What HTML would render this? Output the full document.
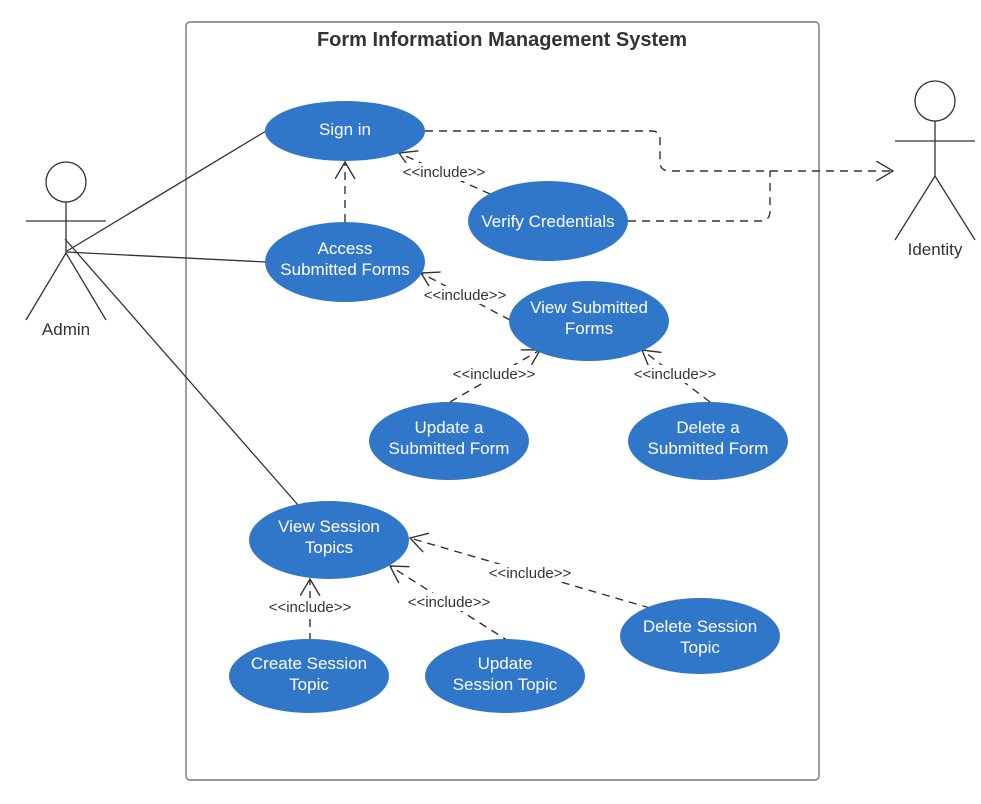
<!DOCTYPE html>
<html><head><meta charset="utf-8"><style>
html,body{margin:0;padding:0;background:#fff}
svg{display:block}
text{font-family:"Liberation Sans",Arial,sans-serif}
.u{fill:#fff;font-size:17px;text-anchor:middle}
.l{fill:#333;font-size:15px;text-anchor:middle}
.d{stroke:#333;stroke-width:1.4;fill:none;stroke-dasharray:8 6}
.s{stroke:#333;stroke-width:1.3;fill:none}
</style></head><body>
<svg width="981" height="804" viewBox="0 0 981 804">
<defs><marker id="a" markerWidth="24" markerHeight="24" refX="17" refY="10" orient="auto" markerUnits="userSpaceOnUse"><polyline points="0,0 17,10 0,20" fill="none" stroke="#333" stroke-width="1.4"/></marker></defs>
<rect x="186" y="22" width="633" height="758" rx="4" fill="none" stroke="#777" stroke-width="1.4"/>
<text x="502" y="46" style="font-size:20px;font-weight:bold;fill:#333" text-anchor="middle">Form Information Management System</text>
<g class="s">
<circle cx="66" cy="182" r="20"/><line x1="66" y1="202" x2="66" y2="253"/><line x1="26" y1="221" x2="106" y2="221"/><line x1="66" y1="253" x2="26" y2="320"/><line x1="66" y1="253" x2="106" y2="320"/>
<circle cx="935" cy="101" r="20"/><line x1="935" y1="121" x2="935" y2="176"/><line x1="895" y1="141" x2="975" y2="141"/><line x1="935" y1="176" x2="895" y2="240"/><line x1="935" y1="176" x2="975" y2="240"/>
<line x1="67" y1="251" x2="266" y2="131"/><line x1="66" y1="252" x2="266" y2="262"/><line x1="65" y1="239" x2="298" y2="505"/>
</g>
<text x="66" y="335" class="l" style="font-size:17px">Admin</text>
<text x="935" y="255" class="l" style="font-size:17px">Identity</text>
<path class="d" d="M425,131 H652 Q660,131 660,140 V162 Q660,171 670,171 H893" marker-end="url(#a)"/>
<path class="d" d="M628,221 H760 Q770,221 770,211 V171"/>
<line class="d" x1="345" y1="222" x2="345" y2="162" marker-end="url(#a)"/>
<line class="d" x1="490" y1="194" x2="399" y2="153" marker-end="url(#a)"/>
<line class="d" x1="510" y1="320" x2="421" y2="273" marker-end="url(#a)"/>
<line class="d" x1="450" y1="402" x2="540" y2="350" marker-end="url(#a)"/>
<line class="d" x1="710" y1="402" x2="642" y2="350" marker-end="url(#a)"/>
<line class="d" x1="310" y1="641" x2="310" y2="579" marker-end="url(#a)"/>
<line class="d" x1="510" y1="642" x2="390" y2="566" marker-end="url(#a)"/>
<line class="d" x1="650" y1="608" x2="410" y2="538" marker-end="url(#a)"/>
<g fill="#fff">
<rect x="398" y="163" width="92" height="18"/><rect x="419" y="286" width="92" height="18"/><rect x="448" y="365" width="92" height="18"/><rect x="629" y="365" width="92" height="18"/><rect x="264" y="598" width="92" height="18"/><rect x="403" y="593" width="92" height="18"/><rect x="484" y="564" width="92" height="18"/>
</g>
<text x="444" y="177" class="l">&lt;&lt;include&gt;&gt;</text>
<text x="465" y="300" class="l">&lt;&lt;include&gt;&gt;</text>
<text x="494" y="379" class="l">&lt;&lt;include&gt;&gt;</text>
<text x="675" y="379" class="l">&lt;&lt;include&gt;&gt;</text>
<text x="310" y="612" class="l">&lt;&lt;include&gt;&gt;</text>
<text x="449" y="607" class="l">&lt;&lt;include&gt;&gt;</text>
<text x="530" y="578" class="l">&lt;&lt;include&gt;&gt;</text>
<g fill="#3177c9">
<ellipse cx="345" cy="131" rx="80" ry="30"/>
<ellipse cx="548" cy="221" rx="80" ry="40"/>
<ellipse cx="345" cy="262" rx="80" ry="40"/>
<ellipse cx="589" cy="321" rx="80" ry="40"/>
<ellipse cx="449" cy="441" rx="80" ry="39"/>
<ellipse cx="708" cy="441" rx="80" ry="39"/>
<ellipse cx="329" cy="540" rx="80" ry="39"/>
<ellipse cx="309" cy="676" rx="80" ry="37"/>
<ellipse cx="505" cy="676" rx="80" ry="37"/>
<ellipse cx="700" cy="636" rx="80" ry="38"/>
</g>
<text class="u" x="345" y="135">Sign in</text>
<text class="u" x="548" y="227">Verify Credentials</text>
<text class="u" x="345" y="254">Access</text><text class="u" x="345" y="275">Submitted Forms</text>
<text class="u" x="589" y="313">View Submitted</text><text class="u" x="589" y="334">Forms</text>
<text class="u" x="449" y="433">Update a</text><text class="u" x="449" y="454">Submitted Form</text>
<text class="u" x="708" y="433">Delete a</text><text class="u" x="708" y="454">Submitted Form</text>
<text class="u" x="329" y="532">View Session</text><text class="u" x="329" y="553">Topics</text>
<text class="u" x="309" y="669">Create Session</text><text class="u" x="309" y="690">Topic</text>
<text class="u" x="505" y="669">Update</text><text class="u" x="505" y="690">Session Topic</text>
<text class="u" x="700" y="632">Delete Session</text><text class="u" x="700" y="653">Topic</text>
</svg>
</body></html>
